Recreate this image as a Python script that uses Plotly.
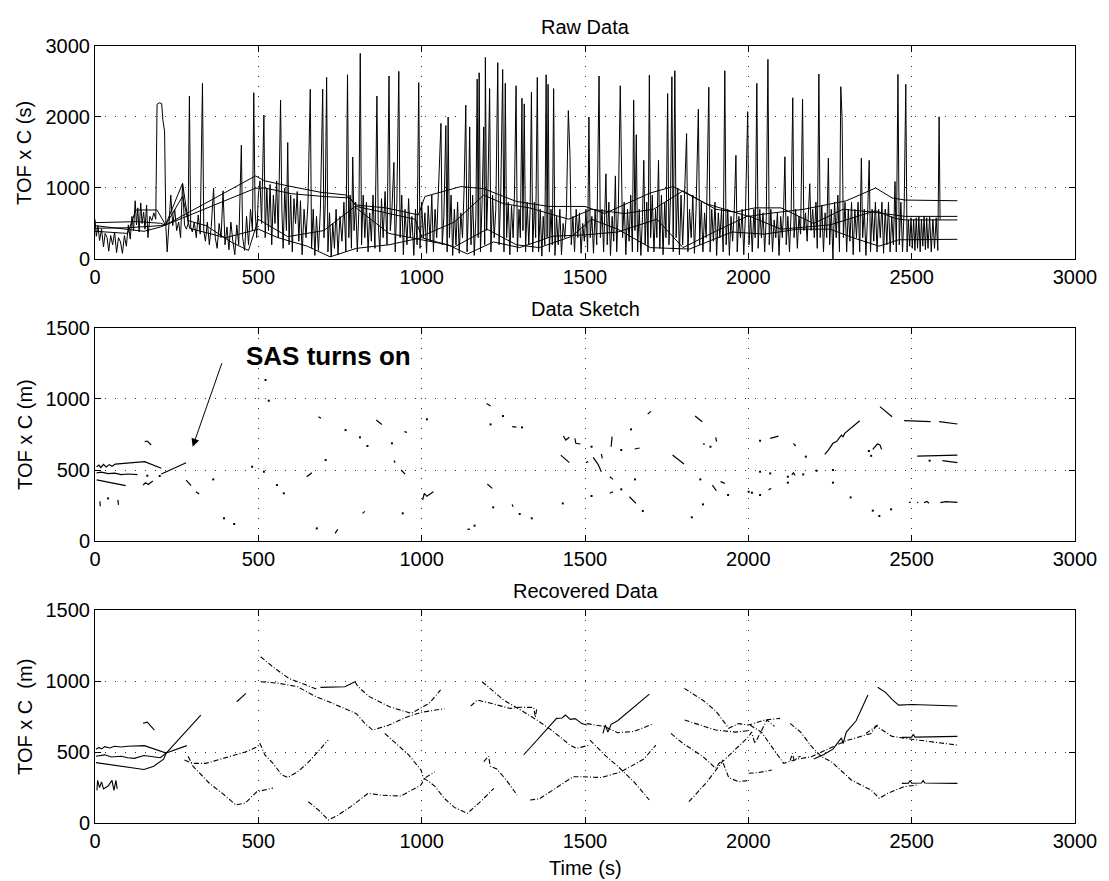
import plotly.graph_objects as go

# ---------------- DATA ----------------
x_ticks = [0, 500, 1000, 1500, 2000, 2500, 3000]
y_ticks_raw = [0, 1000, 2000, 3000]
y_ticks_m = [0, 500, 1000, 1500]

# Raw data: the noisy (spiky) column
raw_noise = [(0,560),(4,320),(9,470),(14,260),(20,420),(26,170),(31,360),(37,300),(42,110),(48,330),(54,200),(60,380),(66,90),(72,300),(78,240),(84,80),(90,330),(96,180),(102,480),(108,280),(113,600),(118,400),(123,820),(127,480),(131,720),(135,380),(140,790),(144,500),(149,660),(153,420),(158,760),(162,300),(168,600),(174,540),(180,650),(186,560),(190,2180),(197,2200),(204,2190),(208,1950),(213,1800),(217,450),(221,100),
(226,560),(232,900),(238,470),(244,700),(250,400),(256,520),(262,300),(268,1060),(274,480),(280,420),(285,500),(289,2295),(293,450),(298,380),(304,520),(310,300),(316,620),(322,350),(329,2474),(333,400),(338,250),(344,520),(350,200),(356,460),(363,995),(368,300),(374,150),(380,500),(386,300),(392,960),(398,200),(404,450),(410,130),(416,520),(422,250),(428,60),(434,480),(440,200),(448,1605),(452,300),(458,120),(464,600),(470,200),(476,700),(482,400),(486,2342),(490,700),(495,300),(500,900),(505,1100),(510,500),(517,2027),(521,300),(526,1000),(531,400),(536,1050),(541,200),(546,900),(551,500),(556,1100),(561,300),(568,2239),(572,700),(576,150),(581,1000),(586,400),(590,1640),(594,200),(599,900),(604,100),(609,850),(614,500),(619,950),(624,250),(629,820),(634,60),(640,700),(646,300),(652,800),(659,2389),(663,150),(668,700),(673,50),(678,600),(684,120),(690,700),(697,2393),(701,300),(705,800),(709,2558),(713,100),(718,650),(723,30),(728,500),(733,150),(738,700),(744,60),(750,600),(756,250),(762,800),(768,100),(773,2595),(777,300),(781,900),(785,150),(789,1436),(793,400),(798,800),(803,100),(808,700),(812,2896),(816,200),(821,900),(826,300),(831,800),(836,100),(841,650),(846,250),(851,900),(857,150),(863,2295),(867,500),(872,100),(877,850),(882,300),(888,950),(894,200),(900,2577),(904,400),(909,700),(915,1360),(919,100),(924,800),(930,2643),(934,300),(939,900),(944,60),(949,700),(955,200),(960,850),(965,300),(970,600),(976,50),(981,700),(986,200),(991,2483),(995,150),(1000,800),(1005,300),(1010,650),(1015,80),(1020,750),(1026,250),(1031,900),(1036,100),(1041,700),(1046,300),(1054,1430),(1059,1910),(1063,200),(1068,600),(1074,1880),(1078,100),(1081,2000),(1085,300),(1090,900),(1095,50),(1100,700),(1105,200),(1110,800),(1115,80),(1120,650),(1125,300),(1130,1000),(1135,2168),(1139,100),(1143,700),(1147,1860),(1151,200),(1156,900),(1161,50),(1166,600),(1170,2534),(1173,300),(1176,2623),(1180,100),(1185,800),(1190,1860),(1193,200),(1195,2840),(1199,400),(1203,1000),(1208,2400),(1212,100),(1217,900),(1222,300),(1227,700),(1233,2765),(1237,200),(1242,900),(1248,2670),(1252,100),(1256,2475),(1260,300),(1265,800),(1270,60),(1275,750),(1280,300),(1284,900),(1289,2440),(1293,100),(1298,700),(1302,300),(1307,2265),(1310,400),(1314,2185),(1318,100),(1323,800),(1328,200),(1332,700),(1336,2350),(1340,100),(1345,800),(1349,300),(1354,2558),(1358,100),(1363,700),(1368,40),(1372,600),(1377,200),(1381,2595),(1384,300),(1387,2460),(1391,100),(1396,700),(1400,200),(1404,2400),(1408,50),(1413,600),(1418,200),(1423,700),(1428,60),(1433,500),(1438,300),(1443,650),(1449,2090),(1454,1460),(1458,200),(1463,600),(1468,100),(1473,700),(1478,300),(1483,650),(1488,80),(1493,500),(1498,250),(1503,700),(1508,100),(1512,2000),(1516,300),(1521,600),(1526,80),(1531,700),(1536,200),(1543,2577),(1547,300),(1552,700),(1557,100),(1564,1200),(1568,200),(1573,800),(1578,50),(1583,600),(1588,250),(1593,1170),(1597,100),(1602,700),(1608,2440),(1611,1340),(1615,300),(1620,800),(1625,60),(1630,700),(1635,250),(1640,900),(1645,100),(1649,2240),(1653,400),(1657,1750),(1661,100),(1666,700),(1671,50),(1676,600),(1680,1390),(1684,200),(1689,800),(1693,100),(1697,2590),(1701,300),(1706,900),(1711,100),(1716,700),(1720,300),(1725,1390),(1729,150),(1734,900),(1739,60),(1744,800),(1748,300),(1753,2330),(1757,200),(1762,900),(1766,2567),(1770,100),(1775,2652),(1779,300),(1784,1000),(1789,60),(1794,900),(1799,200),(1804,800),(1811,1765),(1815,100),(1820,700),(1825,300),(1830,900),(1835,80),(1840,700),(1847,2110),(1851,200),(1856,800),(1861,100),(1866,650),(1871,300),(1879,2420),(1883,100),(1888,700),(1893,250),(1898,800),(1903,50),(1908,650),(1913,300),(1918,700),(1923,100),(1928,2652),(1932,200),(1937,700),(1942,50),(1947,600),(1952,250),(1957,700),(1962,1460),(1966,100),(1971,600),(1976,300),(1981,700),(1986,60),(1991,600),(1998,2075),(2002,200),(2007,600),(2012,100),(2017,700),(2021,300),(2026,2474),(2030,150),(2035,700),(2040,300),(2045,650),(2050,100),(2055,600),(2060,2812),(2064,200),(2069,700),(2074,100),(2079,550),(2084,300),(2089,650),(2094,50),(2099,600),(2104,300),(2108,700),(2112,1440),(2116,200),(2121,600),(2126,100),(2131,650),(2136,2271),(2140,300),(2145,700),(2150,150),(2155,600),(2160,350),(2166,2250),(2170,400),(2175,650),(2180,250),(2188,1060),(2192,400),(2197,700),(2202,300),(2207,800),(2211,150),(2216,2605),(2220,300),(2225,750),(2230,100),(2235,650),(2240,300),(2245,1420),(2249,200),(2254,700),(2259,0),(2264,800),(2269,300),(2274,900),(2279,100),(2283,2427),(2287,1990),(2291,300),(2296,800),(2301,100),(2306,700),(2311,250),(2316,800),(2321,60),(2326,700),(2331,300),(2336,800),(2341,100),(2346,1420),(2350,300),(2355,700),(2360,50),(2365,600),(2370,1390),(2374,100),(2379,700),(2384,250),(2389,800),(2394,100),(2399,700),(2404,300),(2409,800),(2414,80),(2419,700),(2424,200),(2429,800),(2434,100),(2439,600),(2444,200),(2449,1090),(2453,100),(2458,2600),(2462,200),(2467,800),(2472,100),(2477,700),(2482,2460),(2486,100),(2490,550),(2494,180),(2498,580),(2502,150),(2506,560),(2510,120),(2514,580),(2518,150),(2522,600),(2526,100),(2530,560),(2534,180),(2538,600),(2542,130),(2546,580),(2550,150),(2555,600),(2560,100),(2565,560),(2570,150),(2575,580),(2580,120),(2584,2003),(2587,550)]

# Raw data: the smoother columns (joined across gaps)
raw_track_a = [(0,512),(60,520),(130,526),(200,503),(216,479),(491,1169),(520,1100),(590,1030),(690,940),(770,900),(800,760),(890,720),(990,620),(1010,880),(1120,1020),(1190,990),(1290,810),(1390,740),(1500,740),(1560,640),(1700,930),(1770,1020),(1870,780),(2000,600),(2060,640),(2170,700),(2300,820),(2390,1000),(2440,860),(2480,830),(2640,820)]
raw_track_b = [(0,432),(100,440),(200,470),(216,479),(491,996),(520,1000),(600,920),(700,880),(780,860),(800,740),(880,660),(980,560),(1000,320),(1100,520),(1190,900),(1250,780),(1330,720),(1450,560),(1520,700),(1620,640),(1710,700),(1800,960),(1900,700),(1960,660),(2020,720),(2100,720),(2200,500),(2290,700),(2380,660),(2460,620),(2480,600),(2640,600)]
raw_track_c = [(0,470),(90,420),(150,390),(200,450),(216,479),(268,1066),(285,540),(340,470),(420,230),(470,120),(500,560),(590,315),(700,400),(795,735),(900,360),(1000,270),(1080,200),(1140,70),(1220,240),(1300,160),(1400,320),(1500,340),(1600,380),(1720,560),(1800,160),(1900,390),(2000,610),(2100,420),(2250,480),(2390,680),(2450,570),(2480,550),(2640,550)]
raw_track_d = [(0,390),(100,360),(125,690),(190,690),(216,479),(268,880),(290,430),(400,300),(500,420),(560,300),(650,180),(720,30),(800,150),(900,200),(1000,300),(1100,170),(1200,420),(1290,200),(1360,160),(1460,320),(1520,560),(1600,420),(1700,160),(1820,140),(1950,380),(2050,350),(2150,420),(2250,420),(2320,300),(2400,180),(2460,270),(2640,277)]

# Data sketch: short surviving segments and isolated points
sketch_segments = [
    [(5,523),(12,535),(18,518),(26,540),(34,522),(44,538),(52,526),(62,542),(80,545),(100,548),(152,559),(203,512)],
    [(5,480),(20,485),(40,474),(60,478),(80,468),(100,472),(130,468)],
    [(203,472),(279,551)],
    [(5,430),(94,390)],
    [(147,394),(155,410),(163,398),(170,412),(177,422)],
    [(152,700),(160,704),(172,676)],
    [(279,429),(286,410),(294,390)],
    [(309,347),(319,331)],
    [(15,280),(16,245)],
    [(70,290),(72,255)],
    [(648,453),(664,481)],
    [(684,875),(692,864)],
    [(735,54),(743,82)],
    [(819,195),(826,209)],
    [(861,852),(878,821)],
    [(915,566),(919,552)],
    [(937,500),(949,472)],
    [(947,770),(955,765)],
    [(1003,289),(1008,336),(1016,315),(1036,347)],
    [(1199,969),(1211,951)],
    [(1277,805),(1290,802)],
    [(1201,401),(1216,371)],
    [(1277,258),(1280,242)],
    [(1140,82),(1148,84)],
    [(1434,739),(1441,711),(1452,730)],
    [(1469,723),(1472,688),(1486,683)],
    [(1426,605),(1452,552)],
    [(1503,552),(1510,559)],
    [(1525,589),(1540,540),(1550,488)],
    [(1550,612),(1553,582)],
    [(1580,664),(1583,735)],
    [(1576,453),(1586,434)],
    [(1576,336),(1586,347)],
    [(1636,312),(1646,290),(1656,265)],
    [(1652,648),(1667,655)],
    [(1692,894),(1702,913)],
    [(1837,880),(1859,840)],
    [(1768,605),(1803,542)],
    [(1861,683),(1867,683)],
    [(1900,730),(1903,700)],
    [(1890,394),(1902,354)],
    [(1915,418),(1928,406)],
    [(2067,723),(2092,739)],
    [(2138,688),(2145,669)],
    [(2234,610),(2245,640),(2259,688),(2270,700),(2285,746),(2290,735),(2295,758),(2341,847)],
    [(2403,946),(2440,875)],
    [(2381,645),(2395,683),(2403,676),(2408,645)],
    [(2477,847),(2520,845),(2558,840)],
    [(2584,840),(2640,824)],
    [(2517,598),(2560,600),(2600,603),(2640,605)],
    [(2594,566),(2640,552)],
    [(2492,270),(2497,276)],
    [(2517,270),(2520,274)],
    [(2538,270),(2547,278),(2553,266)],
    [(2588,270),(2604,277),(2640,272)],
    [(2062,359),(2070,371)],
    [(2133,466),(2138,480),(2143,462)],
]
sketch_points = [(40,300),(522,1134),(532,988),(481,523),(517,488),(557,394),(578,336),(706,570),(679,89),(767,781),(811,730),(834,669),(909,688),(942,195),(395,160),(426,120),(362,434),(198,458),(160,460),(1016,857),(1211,821),(1249,880),(1307,800),(1219,237),(1300,190),(1337,160),(1162,108),(1432,265),(1520,664),(1611,641),(1641,786),(1611,364),(1677,211),(1653,434),(1520,317),(1884,664),(1853,434),(1861,258),(1827,167),(1938,324),(2036,706),(2176,594),(2369,634),(2376,600),(2555,566),(2001,347),(2011,340),(2036,324),(2121,411),(2121,453),(2168,469),(2209,495),(2259,500),(2259,411),(2313,307),(2381,214),(2401,176),(2437,223),(2036,488),(2067,476)]

# Recovered data: reconstructed tracks (solid pieces and broken pieces)
recovered_solid = [
    [(3,520),(12,532),(20,522),(30,538),(45,528),(60,540),(80,535),(100,540),(151,545),(218,493),(324,760)],
    [(3,470),(30,480),(50,465),(80,470),(100,460),(120,455),(150,475),(200,460),(218,493),(281,545)],
    [(3,425),(60,405),(114,387),(150,377),(180,400),(210,450),(218,493)],
    [(6,230),(8,300),(14,250),(20,290),(26,240),(40,260),(52,300),(58,230),(64,300),(68,240)],
    [(147,702),(160,710),(182,655)],
    [(434,854),(462,913)],
    [(690,955),(765,960),(796,995)],
    [(1312,479),(1413,737),(1430,740),(1440,760),(1455,730),(1470,735),(1490,700),(1505,690)],
    [(1555,631),(1562,690),(1570,640),(1580,695),(1600,720),(1697,908)],
    [(2200,450),(2230,480),(2259,520),(2285,600),(2290,560),(2300,640),(2330,720),(2366,901)],
    [(2396,956),(2420,920),(2440,870),(2460,830),(2500,835),(2640,824)],
    [(2470,603),(2500,605),(2505,625),(2510,605),(2640,610)],
    [(2470,279),(2490,280),(2495,300),(2500,280),(2530,282),(2535,300),(2540,282),(2640,279)],
]
recovered_broken = [
    [(274,443),(300,420),(339,420),(400,460),(460,500),(497,537),(505,560),(520,480),(545,420),(572,338),(590,320),(620,360),(650,420),(714,584)],
    [(285,470),(300,400),(350,280),(400,190),(431,127),(460,140),(495,220),(545,246)],
    [(507,1171),(550,1090),(593,1019),(640,975),(682,940)],
    [(796,995),(805,960),(840,890),(900,820),(968,772),(1023,843),(1058,937)],
    [(507,995),(560,985),(620,960),(676,890),(720,850),(775,796),(800,770),(826,702),(850,655),(900,690),(957,749),(1000,780),(1070,805)],
    [(887,631),(960,480),(998,373),(1005,320),(1040,260),(1069,174),(1100,110),(1140,68),(1180,150),(1221,244)],
    [(653,150),(690,80),(714,21),(740,50),(783,115),(836,209),(880,195),(937,190),(998,268),(1010,317),(1040,360)],
    [(1150,823),(1170,866),(1200,850),(1271,807),(1300,815),(1343,814),(1348,744),(1352,800)],
    [(1185,995),(1251,866),(1300,800),(1353,725),(1400,650),(1454,549),(1474,526),(1515,549)],
    [(1515,584),(1560,480),(1600,400),(1650,290),(1697,162)],
    [(1505,700),(1560,680),(1600,636),(1650,645),(1707,697)],
    [(1494,326),(1550,320),(1610,360),(1680,450),(1717,549)],
    [(1332,162),(1360,170),(1400,230),(1440,290),(1464,326),(1494,326)],
    [(1190,432),(1205,470),(1210,400),(1230,380),(1260,300),(1292,197)],
    [(1804,948),(1860,866),(1900,790),(1940,667),(1970,700),(2000,690),(2050,725),(2097,737)],
    [(1805,725),(1900,655),(1960,640),(2000,650)],
    [(1763,631),(1800,560),(1860,470),(1900,385),(1910,420),(1920,440),(1930,380),(1940,320),(1970,290),(2001,300)],
    [(1818,150),(1870,280),(1920,430),(1970,540),(2001,608),(2010,640),(2020,560),(2057,725),(2080,680)],
    [(2005,690),(2040,640),(2108,420),(2150,450),(2193,467),(2250,526),(2300,580),(2376,631),(2391,683),(2440,610),(2500,590),(2640,549)],
    [(2128,702),(2160,640),(2194,537),(2224,467),(2254,432),(2315,303),(2376,232),(2401,174),(2427,209),(2477,256),(2518,268)],
    [(2001,350),(2030,355),(2072,373)],
    [(2360,630),(2396,690)],
    [(2128,440),(2135,490),(2140,440),(2150,460),(2160,470)],
]

# ---------------- FIGURE ----------------
FONT = "Liberation Sans, Arial, Helvetica, sans-serif"
BLACK = "#000000"


def flatten(segments):
    xs, ys = [], []
    for seg in segments:
        for t, v in seg:
            xs.append(t)
            ys.append(v)
        xs.append(None)
        ys.append(None)
    return xs, ys


fig = go.Figure()

# Raw data
for tr in [raw_track_a, raw_track_b, raw_track_c, raw_track_d, raw_noise]:
    fig.add_trace(go.Scatter(x=[p[0] for p in tr], y=[p[1] for p in tr], mode="lines",
                             line=dict(color=BLACK, width=1), xaxis="x", yaxis="y",
                             showlegend=False, hoverinfo="skip"))

# Data sketch
sx, sy = flatten(sketch_segments)
fig.add_trace(go.Scatter(x=sx, y=sy, mode="lines", line=dict(color=BLACK, width=1.2),
                         xaxis="x2", yaxis="y2", showlegend=False, hoverinfo="skip"))
fig.add_trace(go.Scatter(x=[p[0] for p in sketch_points], y=[p[1] for p in sketch_points],
                         mode="markers", marker=dict(color=BLACK, size=2, symbol="square"),
                         xaxis="x2", yaxis="y2", showlegend=False, hoverinfo="skip"))

# Recovered data
rx, ry = flatten(recovered_solid)
fig.add_trace(go.Scatter(x=rx, y=ry, mode="lines", line=dict(color=BLACK, width=1.1),
                         xaxis="x3", yaxis="y3", showlegend=False, hoverinfo="skip"))
bx, by = flatten(recovered_broken)
fig.add_trace(go.Scatter(x=bx, y=by, mode="lines", line=dict(color=BLACK, width=1.1, dash="5px,2px,1px,2px"),
                         xaxis="x3", yaxis="y3", showlegend=False, hoverinfo="skip"))

axis_common = dict(
    range=[0, 3000], tickvals=x_ticks, ticks="inside", ticklen=6, tickcolor=BLACK,
    showline=True, linecolor=BLACK, linewidth=1, mirror="ticks",
    showgrid=True, gridcolor="#333333", gridwidth=1, griddash="1px,9px",
    zeroline=False, tickfont=dict(family=FONT, size=20, color=BLACK),
    ticklabeloverflow="allow",
)

# The page body has an 8px margin, so the figure is sized/offset to compensate.
doms = {1: [0.7259, 1.0], 2: [0.3629, 0.6371], 3: [0.0, 0.2741]}
layout = dict(
    width=1101, height=873,
    margin=dict(l=87, r=27, t=38, b=58),
    paper_bgcolor="white", plot_bgcolor="white",
    font=dict(family=FONT, size=20, color=BLACK),
    showlegend=False,
)
for i in (1, 2, 3):
    xk = "xaxis" if i == 1 else f"xaxis{i}"
    yk = "yaxis" if i == 1 else f"yaxis{i}"
    xa = dict(axis_common)
    xa.update(anchor="y" if i == 1 else f"y{i}", domain=[0, 1])
    ya = dict(axis_common)
    if i == 1:
        ya.update(range=[0, 3000], tickvals=y_ticks_raw)
    else:
        ya.update(range=[0, 1500], tickvals=y_ticks_m)
    ya.update(anchor="x" if i == 1 else f"x{i}", domain=doms[i])
    layout[xk] = xa
    layout[yk] = ya

fig.update_layout(**layout)

titles = ["Raw Data", "Data Sketch", "Recovered Data"]
ylabels = ["TOF x C (s)", "TOF x C (m)", "TOF x C  (m)"]
ann = []
for i in (1, 2, 3):
    yref = "y domain" if i == 1 else f"y{i} domain"
    ann.append(dict(text=titles[i - 1], xref="paper", yref=yref, x=0.5, y=1.0,
                    xanchor="center", yanchor="bottom", yshift=6, showarrow=False,
                    font=dict(family=FONT, size=20, color=BLACK)))
    ann.append(dict(text=ylabels[i - 1].replace(" ", "&nbsp;"), xref="paper", yref=yref, x=-0.072, y=0.5,
                    xanchor="center", yanchor="middle", textangle=-90, showarrow=False,
                    font=dict(family=FONT, size=20, color=BLACK)))
ann.append(dict(text="Time (s)", xref="paper", yref="paper", x=0.5, y=0, yshift=-32,
                xanchor="center", yanchor="top", showarrow=False,
                font=dict(family=FONT, size=20, color=BLACK)))
ann.append(dict(text="<b>SAS turns on</b>", xref="x2", yref="y2", x=714, y=1303,
                xanchor="center", yanchor="middle", showarrow=False,
                font=dict(family=FONT, size=26, color=BLACK)))
ann.append(dict(text="", xref="x2", yref="y2", x=299, y=664, axref="x2", ayref="y2",
                ax=390, ay=1263, showarrow=True, arrowhead=2, arrowsize=1.6,
                arrowwidth=1, arrowcolor=BLACK, standoff=0, startstandoff=0))
fig.update_layout(annotations=ann)

fig.write_html("out.html")
